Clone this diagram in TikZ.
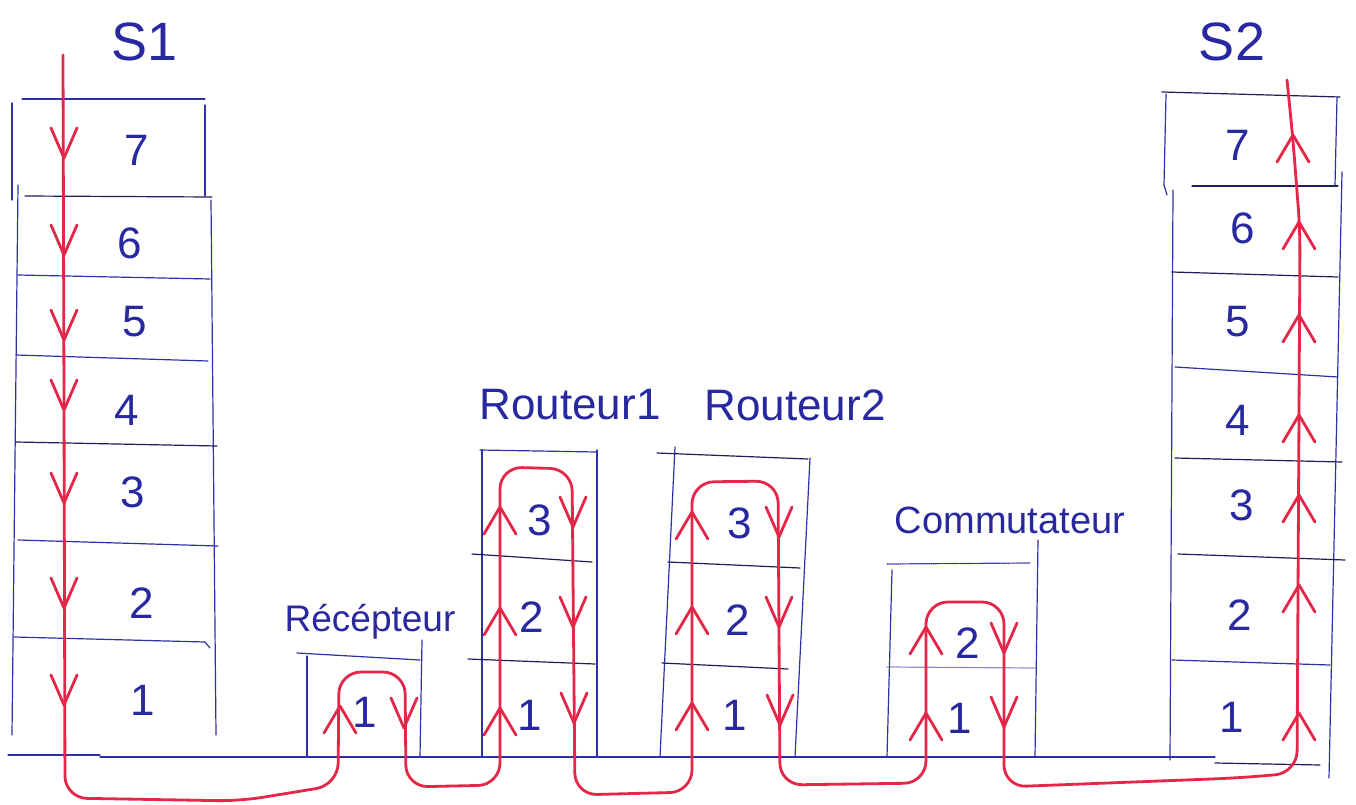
\documentclass[tikz,border=0pt]{standalone}
\usepackage{fontspec}
\setmainfont{Liberation Sans}
\definecolor{inkline}{RGB}{48,48,165}
\definecolor{inkdark}{RGB}{30,30,90}
\definecolor{inktext}{RGB}{40,40,160}
\definecolor{redink}{RGB}{228,38,72}
\begin{document}
\begin{tikzpicture}[x=1pt,y=-1pt,
  ink/.style={draw=inkline, line width=1.2pt, line cap=round},
  inkd/.style={draw=inkdark, line width=1.2pt, line cap=round},
  redpen/.style={draw=redink, line width=2.8pt, line cap=round, line join=round},
  num/.style={text=inktext, font=\fontsize{44}{46}\selectfont, inner sep=0pt},
  lab/.style={text=inktext, inner sep=0pt},
  chevdown/.pic={\draw[redpen] (-13,-30) -- (0,0) -- (13,-30);},
  chevup/.pic={\draw[redpen] (-16,27) -- (0,0) -- (16,27);}]
\useasboundingbox (0,0) rectangle (1356,805);
\fill[white] (0,0) rectangle (1356,805);

% ---------- ground line ----------
\draw[ink] (8,755) -- (100,755);
\draw[ink] (100,757) -- (1215,757);
\draw[inkd] (1215,763) -- (1320,765);

% ---------- S1 ----------
\node[lab, font=\fontsize{54}{56}\selectfont] (s1) at (145,42) {S1};
\draw[ink] (12,103) -- (12,200);
\draw[ink] (22,99) -- (205,99);
\draw[ink] (205,105) -- (205,196);
\draw[inkd] (25,196) -- (212,197);
\draw[ink] (18,185) -- (12,735);
\draw[ink] (211,200) -- (216,735);
\draw[ink] (18,275) -- (210,279);
\draw[ink] (16,355) -- (208,361);
\draw[inkd] (16,442) -- (217,446);
\draw[ink] (18,540) -- (218,546);
\draw[ink] (14,637) -- (205,642) -- (210,648);
\node[num] (s1n7) at (137,150) {7};
\node[num] (s1n6) at (130,243) {6};
\node[num] (s1n5) at (135,322) {5};
\node[num] (s1n4) at (127,410) {4};
\node[num] (s1n3) at (133,492) {3};
\node[num] (s1n2) at (142,603) {2};
\node[num] (s1n1) at (143,700) {1};

% ---------- Recepteur ----------
\node[lab, font=\fontsize{37}{39}\selectfont] (rec) at (370,622) {Récépteur};
\draw[ink] (297,653) -- (420,660);
\draw[ink] (307,656) -- (307,757);
\draw[ink] (422,640) -- (420,757);
\node[num] (recn1) at (365,712) {1};

% ---------- Routeur1 ----------
\node[lab, font=\fontsize{44}{46}\selectfont] (r1) at (570,405) {Routeur1};
\draw[ink] (480,450) -- (597,452);
\draw[ink] (482,450) -- (482,757);
\draw[ink] (597,450) -- (597,757);
\draw[inkd] (472,554) -- (592,562);
\draw[inkd] (468,659) -- (595,664);
\node[num] (r1n3) at (540,520) {3};
\node[num] (r1n2) at (532,617) {2};
\node[num] (r1n1) at (530,715) {1};

% ---------- Routeur2 ----------
\node[lab, font=\fontsize{44}{46}\selectfont] (r2) at (795,405) {Routeur2};
\draw[inkd] (657,453) -- (808,459);
\draw[ink] (675,447) -- (660,757);
\draw[ink] (810,458) -- (795,757);
\draw[inkd] (668,562) -- (800,568);
\draw[inkd] (662,663) -- (788,669);
\node[num] (r2n3) at (740,523) {3};
\node[num] (r2n2) at (738,620) {2};
\node[num] (r2n1) at (735,715) {1};

% ---------- Commutateur ----------
\node[lab, font=\fontsize{38}{40}\selectfont] (com) at (1010,520) {Commutateur};
\draw[ink, densely dotted] (887,564) -- (1030,563);
\draw[ink] (892,570) -- (887,757);
\draw[ink] (1038,540) -- (1035,757);
\draw[ink, draw opacity=0.6, densely dotted] (887,667) -- (1035,668);
\node[num] (comn2) at (968,643) {2};
\node[num] (comn1) at (960,718) {1};

% ---------- S2 ----------
\node[lab, font=\fontsize{54}{56}\selectfont] (s2) at (1232,42) {S2};
\draw[inkd] (1162,92) -- (1340,97);
\draw[ink] (1166,94) -- (1164,185) -- (1167,195);
\draw[ink] (1337,97) -- (1335,185);
\draw[inkd] (1192,186) -- (1338,186);
\draw[ink] (1173,190) -- (1170,760);
\draw[ink] (1342,172) -- (1329,778);
\draw[inkd] (1172,272) -- (1338,277);
\draw[ink] (1175,367) -- (1338,377);
\draw[inkd] (1175,458) -- (1342,462);
\draw[inkd] (1178,554) -- (1345,560);
\draw[ink] (1172,660) -- (1330,665);
\node[num] (s2n7) at (1238,145) {7};
\node[num] (s2n6) at (1243,228) {6};
\node[num] (s2n5) at (1238,322) {5};
\node[num] (s2n4) at (1238,420) {4};
\node[num] (s2n3) at (1242,505) {3};
\node[num] (s2n2) at (1240,615) {2};
\node[num] (s2n1) at (1232,717) {1};

% ---------- red path ----------
\draw[redpen, rounded corners=22pt]
  (63,55) -- (64,400) -- (65,798) -- (240,801) -- (338,785)
  -- (339,672) -- (405,672) -- (406,787) -- (500,785)
  -- (500,467) -- (572,469) -- (575,795) -- (692,792)
  -- (692,482) -- (778,481) -- (780,785) -- (926,783)
  -- (926,602) -- (1004,602) -- (1004,787) -- (1237,778)
  -- (1297,773) -- (1300,230) -- (1293,140) -- (1287,80);

% down chevrons S1
\foreach \yy in {158,255,340,410,503,608,705}
  \pic at (64,\yy) {chevdown};
% S2 up chevrons
\pic at (1293,135) {chevup};
\pic at (1299,222) {chevup};
\pic at (1299,315) {chevup};
\pic at (1299,415) {chevup};
\pic at (1299,495) {chevup};
\pic at (1299,585) {chevup};
\pic at (1299,713) {chevup};
% Recepteur
\pic at (340,706) {chevup};
\pic at (404,728) {chevdown};
% Routeur1
\pic at (500,507) {chevup};
\pic at (500,608) {chevup};
\pic at (500,708) {chevup};
\pic at (573,527) {chevdown};
\pic at (573,627) {chevdown};
\pic at (574,723) {chevdown};
% Routeur2
\pic at (692,512) {chevup};
\pic at (692,607) {chevup};
\pic at (692,703) {chevup};
\pic at (779,537) {chevdown};
\pic at (779,627) {chevdown};
\pic at (780,725) {chevdown};
% Commutateur
\pic at (926,627) {chevup};
\pic at (926,713) {chevup};
\pic at (1004,653) {chevdown};
\pic at (1004,727) {chevdown};
\end{tikzpicture}
\end{document}
